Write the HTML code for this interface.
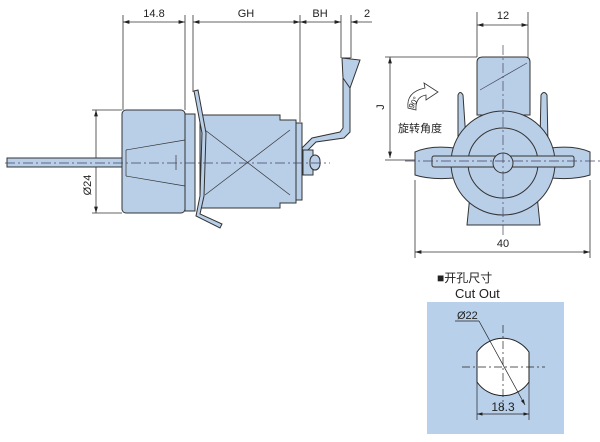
<!DOCTYPE html>
<html><head><meta charset="utf-8"><style>
html,body{margin:0;padding:0;background:#fff;width:600px;height:442px;overflow:hidden}
svg{display:block}
text{font-family:"Liberation Sans","Noto Sans CJK SC",sans-serif;fill:#222}
</style></head><body>
<svg width="600" height="442" viewBox="0 0 600 442" xmlns="http://www.w3.org/2000/svg">
<defs>
<marker id="a" viewBox="0 0 10 6" refX="10" refY="3" markerWidth="8" markerHeight="5" orient="auto-start-reverse"><path d="M0,0L10,3L0,6z" fill="#222"/></marker>
</defs>
<g stroke="#333" stroke-width="0.8" fill="none">
<line x1="123" y1="15" x2="123" y2="110"/><line x1="185" y1="15" x2="185" y2="110"/>
<line x1="193" y1="15" x2="193" y2="92"/><line x1="300" y1="15" x2="300" y2="122"/>
<line x1="341" y1="15" x2="341" y2="58"/><line x1="351" y1="15" x2="351" y2="58"/>
<line x1="123" y1="22" x2="185" y2="22" marker-start="url(#a)" marker-end="url(#a)"/>
<line x1="193" y1="22" x2="300" y2="22" marker-start="url(#a)" marker-end="url(#a)"/>
<line x1="300" y1="22" x2="341" y2="22" marker-start="url(#a)" marker-end="url(#a)"/>
<line x1="351" y1="22" x2="372" y2="22" marker-start="url(#a)"/>
<line x1="92" y1="110" x2="122" y2="110"/><line x1="92" y1="213" x2="122" y2="213"/>
<line x1="96" y1="110" x2="96" y2="213" marker-start="url(#a)" marker-end="url(#a)"/>
</g>
<text x="154" y="17" font-size="11" text-anchor="middle">14.8</text>
<text x="246" y="17" font-size="11" text-anchor="middle">GH</text>
<text x="320" y="17" font-size="11" text-anchor="middle">BH</text>
<text x="367" y="17" font-size="11" text-anchor="middle">2</text>
<text transform="translate(91,185) rotate(-90)" font-size="11" text-anchor="middle">Ø24</text>
<g stroke="#333" stroke-width="1" fill="#b9cfe8">
<rect x="7" y="158" width="117" height="9"/>
<rect x="122" y="110" width="63" height="103" rx="4"/>
<rect x="185" y="114" width="10" height="97"/>
<path d="M200,115 L280,115 L280,120 L296,120 L296,203 L280,203 L280,208 L200,208 Z"/>
<rect x="296" y="123" width="6" height="77"/>
<path d="M194,91 L198,90 L206,133 L204,196 L200,214 L222,224 L220,228 L196,216 L200,196 L202,133 Z"/>
<path d="M302,148 L312,138 L340,132 L343,128 L343,58 L350,58 L350,132 L344,138 L316,142 L304,154 Z"/>
<path d="M342,58 L360,60 L350,88 L343,78 Z"/>
<rect x="303" y="150" width="10" height="25"/>
<rect x="310" y="155" width="10" height="15" rx="6"/>
</g>
<g stroke="#333" stroke-width="0.7" fill="none">
<path d="M126,150 L185,140 M126,176 L185,186 M126,150 L126,176"/>
<line x1="205" y1="130" x2="290" y2="195"/><line x1="205" y1="195" x2="290" y2="130"/>
<line x1="176" y1="155" x2="176" y2="170"/>
<line x1="5" y1="163" x2="330" y2="163" stroke-dasharray="10,3,2,3" stroke="#446"/>
</g>
<g stroke="#333" stroke-width="0.8" fill="none">
<line x1="477" y1="12" x2="477" y2="57"/><line x1="528" y1="12" x2="528" y2="57"/>
<line x1="477" y1="25" x2="528" y2="25" marker-start="url(#a)" marker-end="url(#a)"/>
<line x1="385" y1="57" x2="477" y2="57"/><line x1="385" y1="160" x2="415" y2="160"/>
<line x1="390" y1="57" x2="390" y2="158" marker-start="url(#a)" marker-end="url(#a)"/>
<line x1="415" y1="180" x2="415" y2="258"/><line x1="590" y1="180" x2="590" y2="258"/>
<line x1="415" y1="252" x2="590" y2="252" marker-start="url(#a)" marker-end="url(#a)"/>
</g>
<text x="503" y="19" font-size="11" text-anchor="middle">12</text>
<text x="503" y="247" font-size="11" text-anchor="middle">40</text>
<text transform="translate(384,107) rotate(-90)" font-size="11" text-anchor="middle">J</text>
<text x="420" y="132" font-size="11" text-anchor="middle">旋转角度</text>
<path d="M408,108 Q406,92 425,88 L424,83 L438,92 L426,100 L426,95 Q415,97 416,110 Z" fill="#fff" stroke="#333" stroke-width="0.8"/>
<text transform="translate(416,104) rotate(-60)" font-size="8" text-anchor="middle">90°</text>
<g stroke="#333" stroke-width="1" fill="#b9cfe8">
<path d="M477,115 L477,62 Q477,57 483,57 L525,57 Q530,57 530,62 L530,115 Z"/>
<path d="M458,95 Q460,90 463,95 L466,140 L458,145 Z"/>
<path d="M541,95 Q544,90 547,95 L548,145 L540,140 Z"/>
<path d="M470,195 L537,195 L540,225 L467,225 Z"/>
<path d="M415,152 Q430,145 455,148 L550,148 Q575,145 590,152 L590,175 Q575,180 550,178 L455,178 Q430,180 415,175 Z"/>
<circle cx="503" cy="163" r="52"/>
<circle cx="503" cy="163" r="35"/>
<rect x="432" y="156" width="142" height="11" rx="2"/>
<circle cx="503" cy="163" r="10"/>
</g>
<g stroke="#446" stroke-width="0.7" fill="none" stroke-dasharray="10,3,2,3">
<line x1="503" y1="45" x2="503" y2="238"/><line x1="405" y1="161" x2="600" y2="161"/>
<line x1="480" y1="90" x2="527" y2="63" stroke-dasharray="none"/>
</g>
<text x="437" y="282" font-size="12">■开孔尺寸</text>
<text x="455" y="298" font-size="13">Cut Out</text>
<rect x="427" y="302" width="137" height="132" fill="#b8d0ea"/>
<path d="M477,352 A31.5,31.5 0 0 1 529,352 L529,382 A31.5,31.5 0 0 1 477,382 Z" fill="#fff" stroke="#222" stroke-width="1"/>
<g stroke="#222" stroke-width="0.7" fill="none">
<line x1="462" y1="367" x2="545" y2="367" stroke-dasharray="8,3,2,3"/>
<line x1="503" y1="325" x2="503" y2="410" stroke-dasharray="8,3,2,3"/>
<line x1="455" y1="321" x2="479" y2="321"/>
<line x1="479" y1="321" x2="525" y2="405" marker-end="url(#a)"/>
<line x1="477" y1="382" x2="477" y2="420"/><line x1="529" y1="382" x2="529" y2="420"/>
<line x1="477" y1="414" x2="529" y2="414" marker-start="url(#a)" marker-end="url(#a)"/>
</g>
<text x="457" y="319" font-size="11">Ø22</text>
<text x="503" y="411" font-size="12" text-anchor="middle">18.3</text>
</svg>
</body></html>
